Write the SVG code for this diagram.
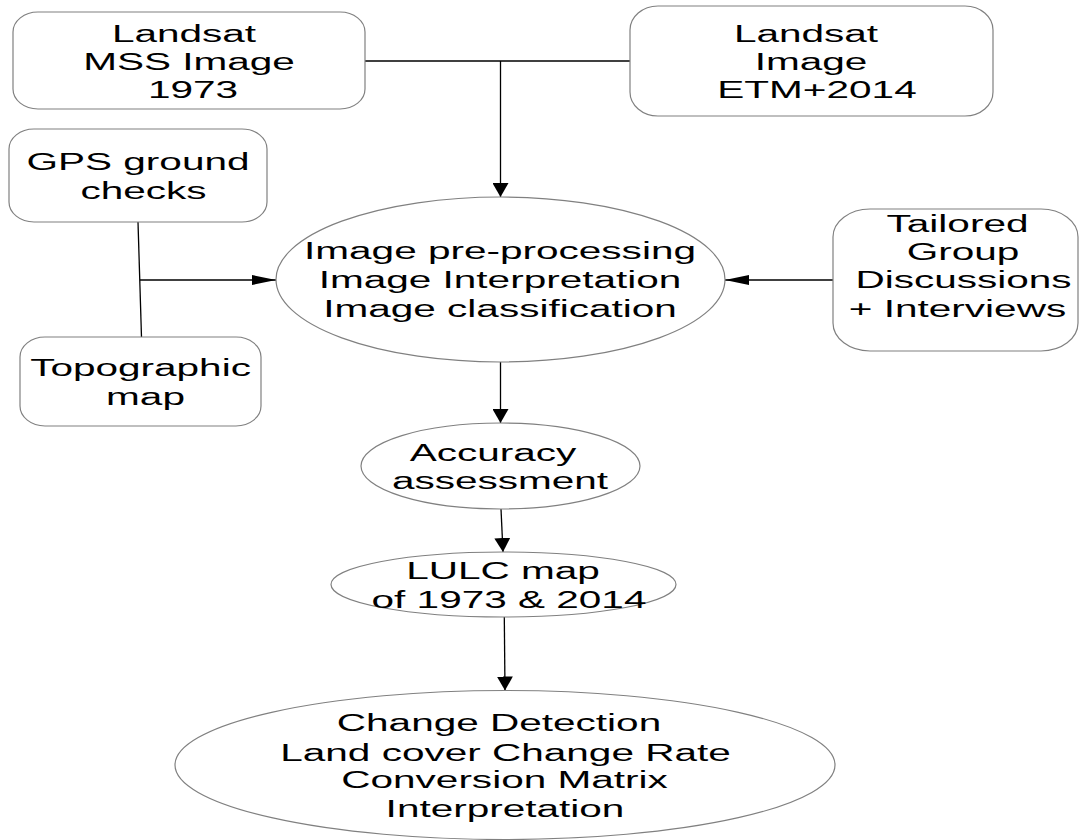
<svg xmlns="http://www.w3.org/2000/svg" width="1080" height="840" viewBox="0 0 1080 840">
<defs>
<style>
.shape{fill:#ffffff;stroke:#808080;stroke-width:1.2}
.conn{fill:none;stroke:#000000;stroke-width:1.3}
.t{font-family:"Liberation Sans",Arial,sans-serif;font-size:23.3px;fill:#000000;text-anchor:middle}
</style>
<marker id="arrV" viewBox="0 0 14 16" refX="14" refY="8" markerWidth="14" markerHeight="16" markerUnits="userSpaceOnUse" orient="auto">
<path d="M0,0 L14,8 L0,16 z" fill="#000"/>
</marker>
<marker id="arrH" viewBox="0 0 24 10" refX="24" refY="5" markerWidth="24" markerHeight="10" markerUnits="userSpaceOnUse" orient="auto">
<path d="M0,0 L24,5 L0,10 z" fill="#000"/>
</marker>
</defs>
<rect width="1080" height="840" fill="#ffffff"/>

<g id="connectors">
<line class="conn" x1="365" y1="61" x2="630" y2="61"/>
<line class="conn" x1="500.5" y1="61" x2="500.5" y2="197" marker-end="url(#arrV)"/>
<line class="conn" x1="138" y1="222" x2="141.5" y2="337"/>
<line class="conn" x1="140" y1="280" x2="276" y2="280" marker-end="url(#arrH)"/>
<line class="conn" x1="833" y1="280" x2="725" y2="280" marker-end="url(#arrH)"/>
<line class="conn" x1="500.5" y1="362" x2="500.5" y2="423" marker-end="url(#arrV)"/>
<line class="conn" x1="501" y1="509" x2="503" y2="552" marker-end="url(#arrV)"/>
<line class="conn" x1="504.3" y1="617" x2="505" y2="690.5" marker-end="url(#arrV)"/>
</g>

<g id="landsat-mss">
<rect class="shape" x="13" y="12" width="352" height="97" rx="25" ry="20"/>
<text class="t" transform="matrix(1.74,0,0,1,184,41.7)">Landsat</text>
<text class="t" transform="matrix(1.74,0,0,1,189,69.5)">MSS Image</text>
<text class="t" transform="matrix(1.74,0,0,1,193,98)">1973</text>
</g>

<g id="landsat-etm">
<rect class="shape" x="630" y="6" width="363" height="110" rx="28" ry="24"/>
<text class="t" transform="matrix(1.74,0,0,1,806,41.7)">Landsat</text>
<text class="t" transform="matrix(1.74,0,0,1,811,70)">Image</text>
<text class="t" transform="matrix(1.74,0,0,1,817,98.3)">ETM+2014</text>
</g>

<g id="gps">
<rect class="shape" x="9" y="129" width="258" height="93" rx="25" ry="20"/>
<text class="t" transform="matrix(1.74,0,0,1,138,170)">GPS ground</text>
<text class="t" transform="matrix(1.74,0,0,1,143.5,198.5)">checks</text>
</g>

<g id="topographic">
<rect class="shape" x="20" y="337" width="241" height="89" rx="25" ry="20"/>
<text class="t" transform="matrix(1.74,0,0,1,140.5,376)">Topographic</text>
<text class="t" transform="matrix(1.74,0,0,1,145.5,404.5)">map</text>
</g>

<g id="processing">
<ellipse class="shape" cx="500.5" cy="279.5" rx="224.5" ry="82.5"/>
<text class="t" transform="matrix(1.74,0,0,1,500,259.3)">Image pre-processing</text>
<text class="t" transform="matrix(1.74,0,0,1,500,288.3)">Image Interpretation</text>
<text class="t" transform="matrix(1.74,0,0,1,500,316.7)">Image classification</text>
</g>

<g id="tailored">
<rect class="shape" x="833" y="209" width="245" height="142" rx="37" ry="28"/>
<text class="t" transform="matrix(1.74,0,0,1,957.5,231.7)">Tailored</text>
<text class="t" transform="matrix(1.74,0,0,1,963,260)">Group</text>
<text class="t" transform="matrix(1.74,0,0,1,963.5,288.3)">Discussions</text>
<text class="t" transform="matrix(1.74,0,0,1,957.5,316.7)">+ Interviews</text>
</g>

<g id="accuracy">
<ellipse class="shape" cx="500.5" cy="466" rx="139.5" ry="43"/>
<text class="t" transform="matrix(1.74,0,0,1,493,461)">Accuracy</text>
<text class="t" transform="matrix(1.74,0,0,1,500,488.5)">assessment</text>
</g>

<g id="lulc">
<ellipse class="shape" cx="503.5" cy="584.5" rx="172.5" ry="32.5"/>
<text class="t" transform="matrix(1.74,0,0,1,503,579)">LULC map</text>
<text class="t" transform="matrix(1.74,0,0,1,509,608)">of 1973 &amp; 2014</text>
</g>

<g id="change">
<ellipse class="shape" cx="505" cy="765" rx="330" ry="74.5"/>
<text class="t" transform="matrix(1.74,0,0,1,499,730.7)">Change Detection</text>
<text class="t" transform="matrix(1.74,0,0,1,505.5,760.7)">Land cover Change Rate</text>
<text class="t" transform="matrix(1.74,0,0,1,504.5,788.3)">Conversion Matrix</text>
<text class="t" transform="matrix(1.74,0,0,1,505,816.7)">Interpretation</text>
</g>
</svg>
